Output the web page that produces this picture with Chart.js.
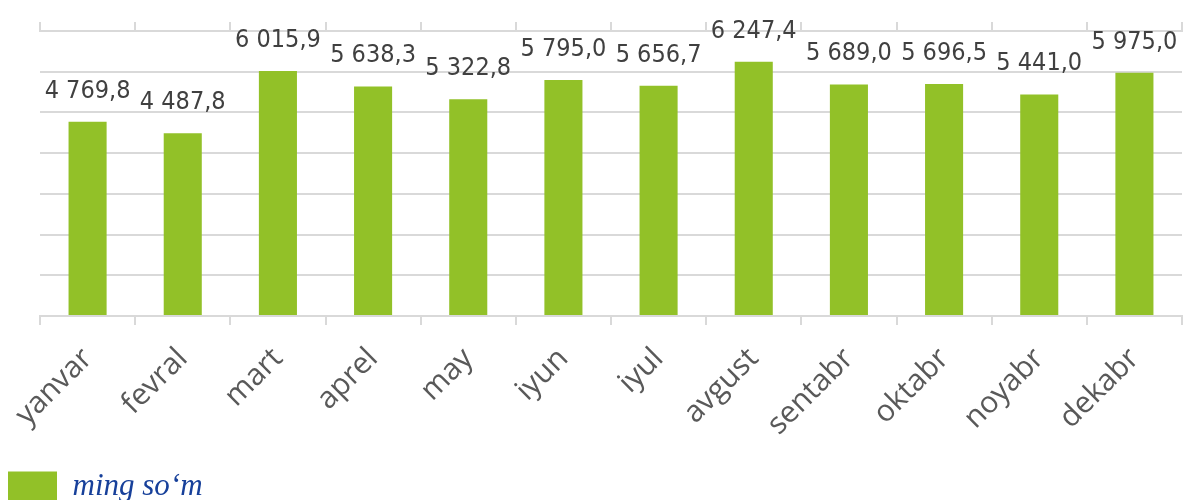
<!DOCTYPE html>
<html>
<head>
<meta charset="utf-8">
<script src="https://cdn.jsdelivr.net/npm/chart.js@4.4.1/dist/chart.umd.min.js"></script>
<style>
  html, body { margin: 0; padding: 0; background: #ffffff; }
  #wrap { position: relative; width: 1197px; height: 500px; }
</style>
</head>
<body>
<div id="wrap"><canvas id="c" width="1197" height="500"></canvas></div>
<script>
// ---- data ----
const categories = ["yanvar", "fevral", "mart", "aprel", "may", "iyun", "iyul", "avgust", "sentabr", "oktabr", "noyabr", "dekabr"];
const values = [4769.8, 4487.8, 6015.9, 5638.3, 5322.8, 5795.0, 5656.7, 6247.4, 5689.0, 5696.5, 5441.0, 5975.0];
const seriesName = "ming so\u2018m";
const yMin = 0;
const yMax = 7000;
const yStep = 1000;

function fmt(v) {
  const parts = v.toFixed(1).split(".");
  const intPart = parts[0].replace(/\B(?=(\d{3})+(?!\d))/g, " ");
  return intPart + "," + parts[1];
}

const valueLabels = {
  id: "valueLabels",
  afterDatasetsDraw(chart) {
    const ctx = chart.ctx;
    const meta = chart.getDatasetMeta(0);
    ctx.save();
    ctx.font = '25px "DejaVu Sans Condensed", "DejaVu Sans", sans-serif';
    ctx.fillStyle = "#404040";
    ctx.textAlign = "center";
    ctx.textBaseline = "bottom";
    meta.data.forEach((bar, i) => {
      ctx.fillText(fmt(values[i]), bar.x, bar.y - 18);
    });
    ctx.restore();
  }
};

const gridColor = "#d9d9d9";

new Chart(document.getElementById("c"), {
  type: "bar",
  data: {
    labels: categories,
    datasets: [{
      label: seriesName,
      data: values,
      backgroundColor: "#92c128",
      borderWidth: 0,
      barPercentage: 0.4,
      categoryPercentage: 1.0
    }]
  },
  options: {
    responsive: false,
    animation: false,
    layout: { padding: { top: 22, right: 15, left: 0, bottom: -12 } },
    plugins: {
      legend: {
        display: true,
        position: "bottom",
        align: "start",
        labels: {
          boxWidth: 49,
          boxHeight: 30,
          padding: 8,
          color: "#17409a",
          font: { family: '"Liberation Serif", serif', size: 31, style: "italic" }
        }
      },
      tooltip: { enabled: false }
    },
    scales: {
      x: {
        position: "bottom",
        offset: true,
        grid: {
          display: true,
          offset: true,
          drawOnChartArea: false,
          drawTicks: true,
          tickLength: 9,
          color: gridColor,
          lineWidth: 2
        },
        border: { display: true, color: gridColor, width: 2 },
        ticks: {
          maxRotation: 45,
          minRotation: 45,
          autoSkip: false,
          padding: 16,
          color: "#595959",
          font: { family: '"Open Sans", sans-serif', size: 30 }
        },
        afterFit(scale) { scale.height = 147; }
      },
      x2: {
        type: "category",
        position: "top",
        offset: true,
        grid: {
          display: true,
          offset: true,
          drawOnChartArea: false,
          drawTicks: true,
          tickLength: 9,
          color: gridColor,
          lineWidth: 2
        },
        border: { display: true, color: gridColor, width: 2 },
        ticks: { display: false },
        afterFit(scale) { scale.height = 9; }
      },
      y: {
        min: yMin,
        max: yMax,
        ticks: { display: false, stepSize: yStep },
        grid: { color: gridColor, lineWidth: 2, drawTicks: false },
        border: { display: false },
        afterFit(scale) { scale.width = 40; }
      }
    }
  },
  plugins: [valueLabels]
});
</script>
</body>
</html>
